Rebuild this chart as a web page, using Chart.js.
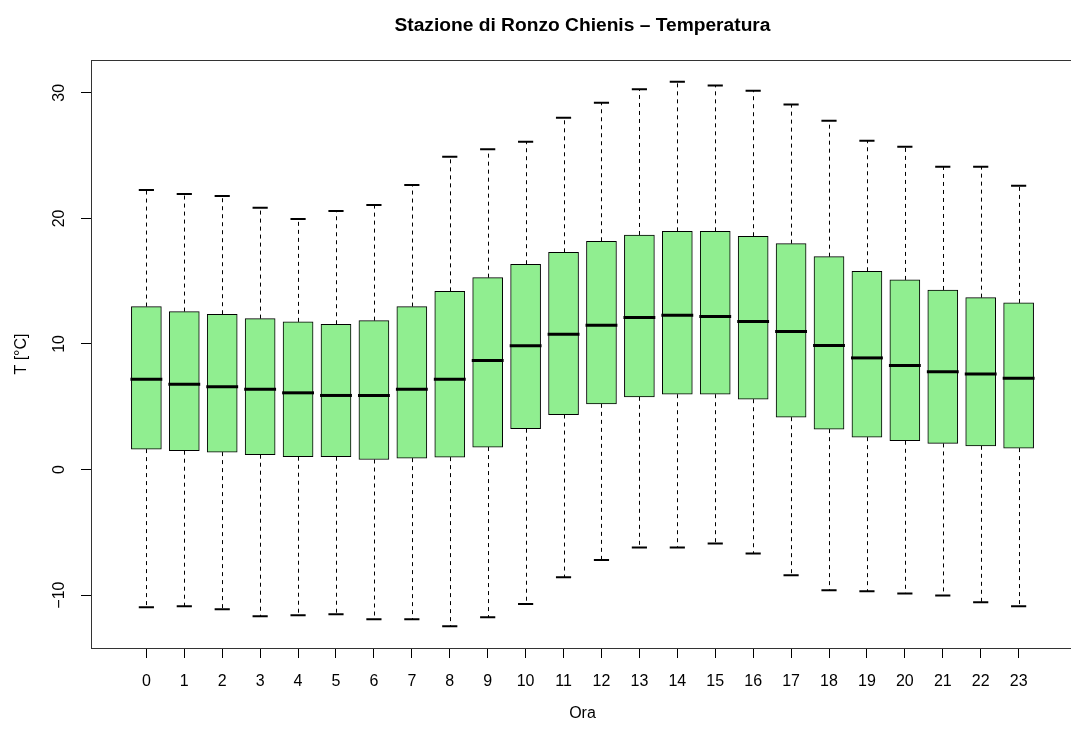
<!DOCTYPE html>
<html>
<head>
<meta charset="utf-8">
<script src="https://cdn.jsdelivr.net/npm/chart.js@4/dist/chart.umd.min.js"></script>
<style>
  html, body { margin: 0; padding: 0; background: #fff; overflow: hidden; }
  #wrap { width: 1080px; height: 731px; }
</style>
</head>
<body>
<div id="wrap"><canvas id="myChart" width="1080" height="731"></canvas></div>
<script>
// ore del giorno e statistiche del boxplot (temperatura in °C)
let ore = [0, 1, 2, 3, 4, 5, 6, 7, 8, 9, 10, 11, 12, 13, 14, 15, 16, 17, 18, 19, 20, 21, 22, 23]
let minimo  = [-10.97, -10.89, -11.13, -11.68, -11.60, -11.53, -11.93, -11.93, -12.48, -11.76, -10.70, -8.58,
               -7.20, -6.20, -6.20, -5.88, -6.68, -8.42, -9.62, -9.70, -9.88, -10.02, -10.57, -10.89]
let q1      = [1.63, 1.50, 1.39, 1.18, 1.02, 1.02, 0.80, 0.91, 0.99, 1.79, 3.25, 4.38,
               5.23, 5.79, 6.00, 6.00, 5.60, 4.17, 3.22, 2.58, 2.29, 2.08, 1.89, 1.71]
let mediana = [7.20, 6.80, 6.59, 6.40, 6.11, 5.90, 5.90, 6.40, 7.20, 8.68, 9.85, 10.78,
               11.49, 12.10, 12.29, 12.18, 11.78, 10.99, 9.88, 8.89, 8.29, 7.78, 7.60, 7.28]
let q3      = [12.98, 12.58, 12.37, 12.02, 11.76, 11.57, 11.86, 12.98, 14.19, 15.28, 16.35, 17.30,
               18.18, 18.68, 18.97, 18.97, 18.58, 17.99, 16.95, 15.79, 15.10, 14.30, 13.69, 13.27]
let massimo = [22.26, 21.94, 21.78, 20.85, 19.95, 20.59, 21.07, 22.66, 24.91, 25.50, 26.10, 28.01,
               29.20, 30.29, 30.88, 30.59, 30.16, 29.07, 27.77, 26.18, 25.70, 24.11, 24.11, 22.60]
let tickY = [-10, 0, 10, 20, 30]

const font = { family: "'Liberation Sans', Arial, sans-serif", size: 16 }

// baffi tratteggiati, mediane e cornice come in R
const boxExtra = {
    id: 'boxExtra',
    beforeDatasetsDraw(chart) {
        const c = chart.ctx, x = chart.scales.x, y = chart.scales.y
        c.save()
        c.strokeStyle = '#000'
        c.lineWidth = 1
        ore.forEach((h, i) => {
            const px = Math.round(x.getPixelForValue(h)) + 0.5
            c.setLineDash([4, 4])
            c.beginPath()
            c.moveTo(px, y.getPixelForValue(q3[i])); c.lineTo(px, y.getPixelForValue(massimo[i]))
            c.moveTo(px, y.getPixelForValue(q1[i])); c.lineTo(px, y.getPixelForValue(minimo[i]))
            c.stroke()
            c.setLineDash([])
            c.lineWidth = 2
            const a = x.getPixelForValue(h - 0.2), b = x.getPixelForValue(h + 0.2)
            c.beginPath()
            c.moveTo(a, y.getPixelForValue(massimo[i])); c.lineTo(b, y.getPixelForValue(massimo[i]))
            c.moveTo(a, y.getPixelForValue(minimo[i])); c.lineTo(b, y.getPixelForValue(minimo[i]))
            c.stroke()
            c.lineWidth = 1
        })
        c.restore()
    },
    afterDatasetsDraw(chart) {
        const c = chart.ctx, x = chart.scales.x, y = chart.scales.y
        c.save()
        c.strokeStyle = '#000'
        c.lineWidth = 3
        ore.forEach((h, i) => {
            const py = y.getPixelForValue(mediana[i])
            c.beginPath()
            c.moveTo(x.getPixelForValue(h - 0.42), py)
            c.lineTo(x.getPixelForValue(h + 0.42), py)
            c.stroke()
        })
        const a = chart.chartArea
        c.lineWidth = 1
        c.strokeStyle = '#333'
        c.strokeRect(Math.round(a.left) + 0.5, Math.round(a.top) + 0.5,
                     Math.round(a.right - a.left), Math.round(a.bottom - a.top))
        c.restore()
    }
}

let ctx = document.getElementById('myChart').getContext('2d')
let chart = new Chart(ctx, {
    type: 'bar',
    data: {
        datasets: [{
            label: 'Temperatura',
            data: ore.map((h, i) => ({ x: h, y: [q1[i], q3[i]] })),
            backgroundColor: '#90EE90',
            borderColor: '#000',
            borderWidth: 1,
            borderSkipped: false,
            barThickness: 30
        }]
    },
    options: {
        responsive: false,
        animation: false,
        layout: { padding: { left: 0, right: 6, top: 0, bottom: 0 } },
        plugins: {
            legend: { display: false },
            tooltip: { enabled: false },
            title: {
                display: true,
                fullSize: false,
                text: 'Stazione di Ronzo Chienis \u2013 Temperatura',
                color: '#000',
                font: { family: font.family, size: 19.2, weight: 'bold', lineHeight: 1.2 },
                padding: { top: 14, bottom: 23 }
            }
        },
        scales: {
            x: {
                type: 'linear',
                offset: false,
                min: -1.46,
                max: 24.46,
                afterBuildTicks: (s) => { s.ticks = ore.map(v => ({ value: v })) },
                afterFit: (s) => { s.height = 83 },
                grid: { display: true, offset: false, drawOnChartArea: false, tickLength: 10, color: '#000' },
                border: { display: false },
                ticks: { color: '#000', font: font, padding: 14, maxRotation: 0, autoSkip: false },
                title: { display: true, text: 'Ora', color: '#000', font: font, padding: { top: 8, bottom: 8 } }
            },
            y: {
                min: -14.21,
                max: 32.61,
                afterBuildTicks: (s) => { s.ticks = tickY.map(v => ({ value: v })) },
                afterFit: (s) => { s.width = 91 },
                grid: { display: true, drawOnChartArea: false, tickLength: 10, color: '#000' },
                border: { display: false },
                ticks: {
                    color: '#000', font: font, padding: 8, minRotation: 90, maxRotation: 90,
                    crossAlign: 'center',
                    callback: (v) => String(v).replace('-', '\u2212')
                },
                title: { display: true, text: 'T [°C]', color: '#000', font: font, padding: { top: 12, bottom: 12 } }
            }
        }
    },
    plugins: [boxExtra]
})
</script>
</body>
</html>
